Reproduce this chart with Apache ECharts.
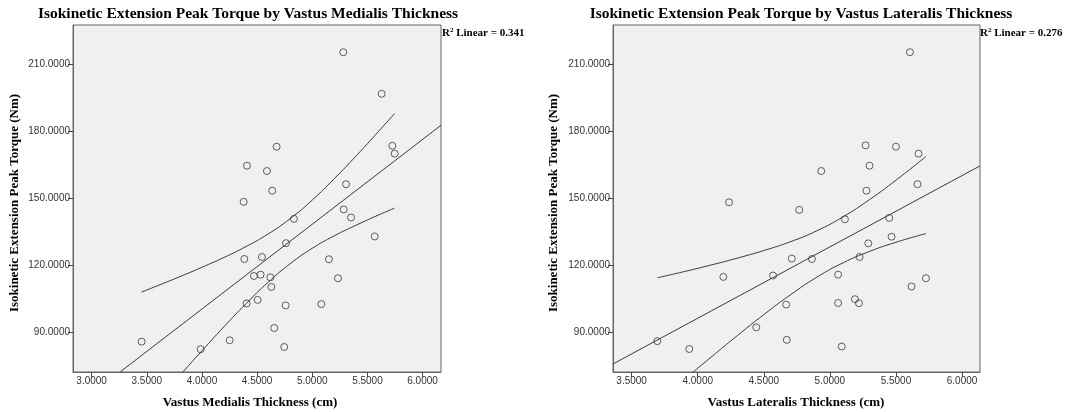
<!DOCTYPE html>
<html><head><meta charset="utf-8">
<script src="https://cdn.jsdelivr.net/npm/echarts@6/dist/echarts.min.js"></script>
<style>html,body{margin:0;padding:0;background:#fff}#c{width:1072px;height:412px}</style>
</head><body><div id="c"></div>
<script>
// ---- Data ----
const vmThickness = [5.281,5.629,5.726,5.747,4.677,4.408,4.589,4.637,5.306,4.378,4.834,5.285,5.351,5.566,4.762,4.384,4.544,5.151,4.471,4.532,4.620,4.629,5.233,4.505,4.405,4.759,5.082,4.655,3.453,4.251,3.988,4.746];
const vmTorque    = [215.4,196.8,173.5,170.0,173.1,164.6,162.2,153.4,156.3,148.4,140.8,145.0,141.4,132.9,129.9,122.8,123.7,122.7,115.2,115.8,114.6,110.3,114.2,104.5,102.9,102.0,102.6,91.9,85.8,86.4,82.4,83.4];
const vlThickness = [5.606,5.270,5.500,5.671,5.300,4.935,5.277,5.663,4.237,4.768,5.114,5.449,5.467,5.291,4.712,4.864,5.225,4.194,4.570,5.062,5.727,5.618,4.669,5.062,5.190,5.220,4.443,3.694,3.936,4.674,5.090];
const vlTorque    = [215.4,173.7,173.1,170.0,164.6,162.2,153.4,156.3,148.2,144.8,140.6,141.2,132.8,129.8,123.0,122.8,123.7,114.8,115.4,115.8,114.2,110.5,102.4,103.1,104.8,103.0,92.2,86.0,82.5,86.6,83.6];

// fit lines (endpoints)
const vmFitX = [3.26, 6.167];
const vmFitY = [72.3, 182.7];
const vlFitX = [3.359, 6.136];
const vlFitY = [75.8, 164.5];

// 95% confidence band curves
const vmBandX     = [3.453, 3.6, 3.8, 4.0, 4.2, 4.4, 4.6, 4.8, 5.0, 5.2, 5.4, 5.6, 5.747];
const vmBandUpper = [108.0,110.9,114.9,119.1,123.5,128.4,134.0,140.9,149.2,158.8,169.1,179.9,188.0];
const vmBandLower = [51.2, 59.5, 70.7, 81.7, 92.5, 102.8,112.4,120.7,127.6,133.2,138.0,142.5,145.6];
const vlBandX     = [3.694, 3.9, 4.1, 4.3, 4.5, 4.7, 4.9, 5.1, 5.3, 5.5, 5.727];
const vlBandUpper = [114.4,117.2,120.1,123.2,126.6,130.5,135.4,141.7,149.4,158.1,168.7];
const vlBandLower = [58.6, 68.9, 78.8, 88.5, 97.9, 106.7,114.6,121.1,126.2,130.3,134.2];

const yTicks  = [90, 120, 150, 180, 210];
const vmTicks = [3.0, 3.5, 4.0, 4.5, 5.0, 5.5, 6.0];
const vlTicks = [3.5, 4.0, 4.5, 5.0, 5.5, 6.0];

const titles = ['Isokinetic Extension Peak Torque by Vastus Medialis Thickness',
                'Isokinetic Extension Peak Torque by Vastus Lateralis Thickness'];
const xNames = ['Vastus Medialis Thickness (cm)', 'Vastus Lateralis Thickness (cm)'];
const yName = 'Isokinetic Extension Peak Torque (Nm)';
const r2Labels = ['0.341', '0.276'];

// ---- Chart ----
const zip = (a, b) => a.map((v, i) => [v, b[i]]);
const SERIF = '"Liberation Serif","Times New Roman",serif';
const SANS = '"Liberation Sans",Arial,sans-serif';
const INK = '#333';

function xAxis(idx, min, max, ticks) {
  return {
    type: 'value', gridIndex: idx, min: min, max: max,
    axisLine: { show: true, lineStyle: { color: '#666', width: 1 } },
    axisTick: { show: true, customValues: ticks, length: 5, lineStyle: { color: '#444' } },
    axisLabel: { customValues: ticks, formatter: v => v.toFixed(4), fontFamily: SANS, fontSize: 10, color: INK, margin: 4 },
    splitLine: { show: false }
  };
}
function yAxis(idx) {
  return {
    type: 'value', gridIndex: idx, min: 72.2, max: 227.6,
    axisLine: { show: true, lineStyle: { color: '#666', width: 1 } },
    axisTick: { show: true, customValues: yTicks, length: 5, lineStyle: { color: '#444' } },
    axisLabel: { customValues: yTicks, formatter: v => v.toFixed(4), fontFamily: SANS, fontSize: 10, color: INK, margin: 3 },
    splitLine: { show: false }
  };
}
function lineSeries(idx, data, smooth) {
  return {
    type: 'line', xAxisIndex: idx, yAxisIndex: idx, data: data, showSymbol: false,
    smooth: smooth, clip: true, silent: true,
    lineStyle: { color: '#3a3a3a', width: 1 }
  };
}
function scatterSeries(idx, xs, ys) {
  return {
    type: 'scatter', xAxisIndex: idx, yAxisIndex: idx, data: zip(xs, ys),
    symbol: 'circle', symbolSize: 7,
    itemStyle: { color: 'rgba(0,0,0,0)', borderColor: '#3a3a3a', borderWidth: 1 }
  };
}
function r2Text(x, label) {
  return { type: 'text', x: x, y: 33, style: { text: '{a|R}{s|2}{a| Linear = ' + label + '}', align: 'left', verticalAlign: 'middle',
    rich: { a: { font: 'bold 11px ' + SERIF, fill: '#000' }, s: { font: 'bold 7px ' + SERIF, fill: '#000', verticalAlign: 'top', padding: [0, 0, 5, 0] } } } };
}

const chart = echarts.init(document.getElementById('c'), null, { renderer: 'canvas' });
chart.setOption({
  animation: false,
  backgroundColor: '#ffffff',
  grid: [
    { left: 73, right: 631, top: 25, bottom: 40, show: true, backgroundColor: '#f0f0f0', borderColor: '#666', borderWidth: 1 },
    { left: 613, right: 92, top: 25, bottom: 40, show: true, backgroundColor: '#f0f0f0', borderColor: '#666', borderWidth: 1 }
  ],
  xAxis: [xAxis(0, 2.831, 6.167, vmTicks), xAxis(1, 3.359, 6.136, vlTicks)],
  yAxis: [yAxis(0), yAxis(1)],
  series: [
    scatterSeries(0, vmThickness, vmTorque),
    lineSeries(0, zip(vmFitX, vmFitY), false),
    lineSeries(0, zip(vmBandX, vmBandUpper), true),
    lineSeries(0, zip(vmBandX, vmBandLower), true),
    scatterSeries(1, vlThickness, vlTorque),
    lineSeries(1, zip(vlFitX, vlFitY), false),
    lineSeries(1, zip(vlBandX, vlBandUpper), true),
    lineSeries(1, zip(vlBandX, vlBandLower), true)
  ],
  graphic: [
    { type: 'text', x: 248, y: 14, style: { text: titles[0], font: 'bold 15.5px ' + SERIF, fill: '#000', align: 'center', verticalAlign: 'middle' } },
    { type: 'text', x: 801, y: 14, style: { text: titles[1], font: 'bold 15.5px ' + SERIF, fill: '#000', align: 'center', verticalAlign: 'middle' } },
    { type: 'text', x: 250, y: 403, style: { text: xNames[0], font: 'bold 13px ' + SERIF, fill: '#000', align: 'center', verticalAlign: 'middle' } },
    { type: 'text', x: 796, y: 403, style: { text: xNames[1], font: 'bold 13px ' + SERIF, fill: '#000', align: 'center', verticalAlign: 'middle' } },
    { type: 'text', x: 15, y: 203, rotation: Math.PI / 2, style: { text: yName, font: 'bold 13px ' + SERIF, fill: '#000', align: 'center', verticalAlign: 'middle' } },
    { type: 'text', x: 554, y: 203, rotation: Math.PI / 2, style: { text: yName, font: 'bold 13px ' + SERIF, fill: '#000', align: 'center', verticalAlign: 'middle' } },
    r2Text(442, r2Labels[0]),
    r2Text(980, r2Labels[1])
  ]
});
</script></body></html>
